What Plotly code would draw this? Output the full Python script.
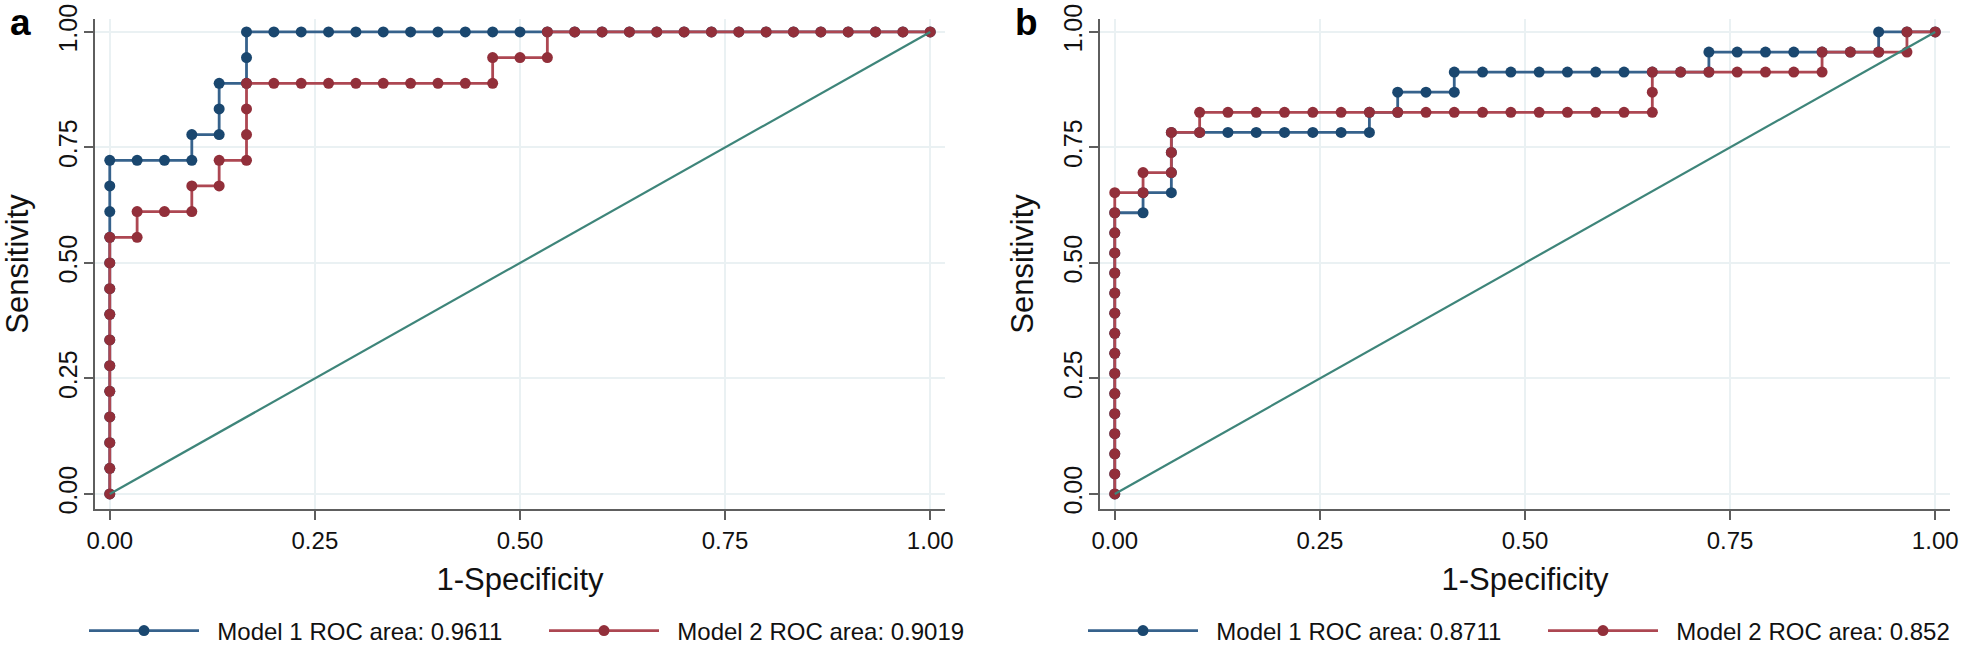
import plotly.graph_objects as go

# ---------------- data (counts) ----------------
N_NEG_A, N_POS_A = 30, 18
N_NEG_B, N_POS_B = 29, 23

a_m1_fp = [0,0,0,0,0,0,0,0,0,0,0,0,0,0,
           1,2,3,3,4,4,4,5,5,5,
           6,7,8,9,10,11,12,13,14,15,16,17,18,19,20,21,22,23,24,25,26,27,28,29,30]
a_m1_tp = [0,1,2,3,4,5,6,7,8,9,10,11,12,13,
           13,13,13,14,14,15,16,16,17,18,
           18,18,18,18,18,18,18,18,18,18,18,18,18,18,18,18,18,18,18,18,18,18,18,18,18]

a_m2_fp = [0,0,0,0,0,0,0,0,0,0,0,
           1,1,2,3,3,4,4,5,5,5,5,
           6,7,8,9,10,11,12,13,14,
           14,15,16,16,
           17,18,19,20,21,22,23,24,25,26,27,28,29,30]
a_m2_tp = [0,1,2,3,4,5,6,7,8,9,10,
           10,11,11,11,12,12,13,13,14,15,16,
           16,16,16,16,16,16,16,16,16,
           17,17,17,18,
           18,18,18,18,18,18,18,18,18,18,18,18,18,18]

b_m1_fp = [0,0,0,0,0,0,0,0,0,0,0,0,0,0,0,
           1,1,2,2,2,2,
           3,4,5,6,7,8,9,
           9,10,10,11,12,12,
           13,14,15,16,17,18,19,20,21,
           21,22,23,24,25,26,27,
           27,28,29]
b_m1_tp = [0,1,2,3,4,5,6,7,8,9,10,11,12,13,14,
           14,15,15,16,17,18,
           18,18,18,18,18,18,18,
           19,19,20,20,20,21,
           21,21,21,21,21,21,21,21,21,
           22,22,22,22,22,22,22,
           23,23,23]

b_m2_fp = [0,0,0,0,0,0,0,0,0,0,0,0,0,0,0,0,
           1,1,2,2,2,3,3,
           4,5,6,7,8,9,10,11,12,13,14,15,16,17,18,19,
           19,19,
           20,21,22,23,24,25,
           25,26,27,28,28,29]
b_m2_tp = [0,1,2,3,4,5,6,7,8,9,10,11,12,13,14,15,
           15,16,16,17,18,18,19,
           19,19,19,19,19,19,19,19,19,19,19,19,19,19,19,19,
           20,21,
           21,21,21,21,21,21,
           22,22,22,22,23,23]

ref_line = [0, 1]
tick_vals = [0, 0.25, 0.5, 0.75, 1.0]
tick_text = ["0.00", "0.25", "0.50", "0.75", "1.00"]
labels_a = ["Model 1 ROC area: 0.9611", "Model 2 ROC area: 0.9019"]
labels_b = ["Model 1 ROC area: 0.8711", "Model 2 ROC area: 0.852"]

# ---------------- style ----------------
BLUE_M, BLUE_L = "#1a476f", "#36628c"
RED_M, RED_L = "#922f3a", "#ad4752"
DIAG = "#3e857a"
AXIS = "#5e5e5e"
GRID = "#eaf1f3"
FONT = "Liberation Sans, Arial, sans-serif"
PAD = "\u00a0\u00a0"

W, H = 1961, 647
fig = go.Figure()

def add_panel(xa, ya, leg, m1fp, m1tp, m2fp, m2tp, nneg, npos, labels):
    fig.add_trace(go.Scatter(
        x=[v / nneg for v in m1fp], y=[v / npos for v in m1tp], mode="lines+markers",
        name=PAD + labels[0], legend=leg, xaxis=xa, yaxis=ya,
        line=dict(color=BLUE_L, width=2.8), marker=dict(color=BLUE_M, size=11)))
    fig.add_trace(go.Scatter(
        x=[v / nneg for v in m2fp], y=[v / npos for v in m2tp], mode="lines+markers",
        name=PAD + labels[1], legend=leg, xaxis=xa, yaxis=ya,
        line=dict(color=RED_L, width=2.8), marker=dict(color=RED_M, size=11)))
    fig.add_trace(go.Scatter(
        x=ref_line, y=ref_line, mode="lines", showlegend=False, xaxis=xa, yaxis=ya,
        line=dict(color=DIAG, width=2.2)))

add_panel("x", "y", "legend", a_m1_fp, a_m1_tp, a_m2_fp, a_m2_tp, N_NEG_A, N_POS_A, labels_a)
add_panel("x2", "y2", "legend2", b_m1_fp, b_m1_tp, b_m2_fp, b_m2_tp, N_NEG_B, N_POS_B, labels_b)

ydom = [1 - 509 / H, 1 - 19 / H]
xr = [-0.018, 1.018]
yr = [-0.0325, 1.028]

def xaxis(dom, anchor):
    return dict(domain=dom, anchor=anchor, range=xr, tickvals=tick_vals, ticktext=tick_text,
                automargin=False,
                showline=True, linecolor=AXIS, linewidth=2, ticks="outside", ticklen=9,
                tickwidth=2, tickcolor=AXIS, showgrid=True, gridcolor=GRID, gridwidth=2,
                zeroline=False,
                tickfont=dict(size=24, color="#111", family=FONT),
                title=dict(text="1-Specificity", font=dict(size=31, color="#111", family=FONT),
                           standoff=16))

def yaxis(anchor):
    return dict(domain=ydom, anchor=anchor, range=yr, tickvals=tick_vals, ticktext=tick_text,
                automargin=False,
                showline=True, linecolor=AXIS, linewidth=2, ticks="outside", ticklen=9,
                tickwidth=2, tickcolor=AXIS, showgrid=True, gridcolor=GRID, gridwidth=2,
                zeroline=False, tickangle=-90, ticklabelstandoff=-3,
                tickfont=dict(size=25, color="#111", family=FONT),
                title=dict(text="Sensitivity", font=dict(size=31, color="#111", family=FONT),
                           standoff=16))

leg_common = dict(orientation="h", yanchor="middle", y=1 - 631 / H, xanchor="left",
                  font=dict(size=24, color="#111", family=FONT), itemwidth=110,
                  bgcolor="rgba(0,0,0,0)", entrywidth=335)

fig.update_layout(
    width=W, height=H, autosize=False,
    margin=dict(l=0, r=0, t=0, b=0, autoexpand=False),
    paper_bgcolor="white", plot_bgcolor="white",
    font=dict(family=FONT),
    xaxis=xaxis([95 / W, 945 / W], "y"),
    yaxis=yaxis("x"),
    xaxis2=xaxis([1100 / W, 1950 / W], "y2"),
    yaxis2=yaxis("x2"),
    legend=dict(x=84 / W, **leg_common),
    legend2=dict(x=1083 / W, **leg_common),
    annotations=[
        dict(text="<b>a</b>", x=20 / W, y=1.0, xref="paper", yref="paper",
             xanchor="center", yanchor="top",
             showarrow=False, font=dict(size=37, color="black", family=FONT)),
        dict(text="<b>b</b>", x=1026 / W, y=1.0, xref="paper", yref="paper",
             xanchor="center", yanchor="top",
             showarrow=False, font=dict(size=37, color="black", family=FONT)),
    ],
)

fig.write_html("out.html", config={"displayModeBar": False},
               post_script="document.body.style.margin='0';document.body.style.overflow='hidden';")
